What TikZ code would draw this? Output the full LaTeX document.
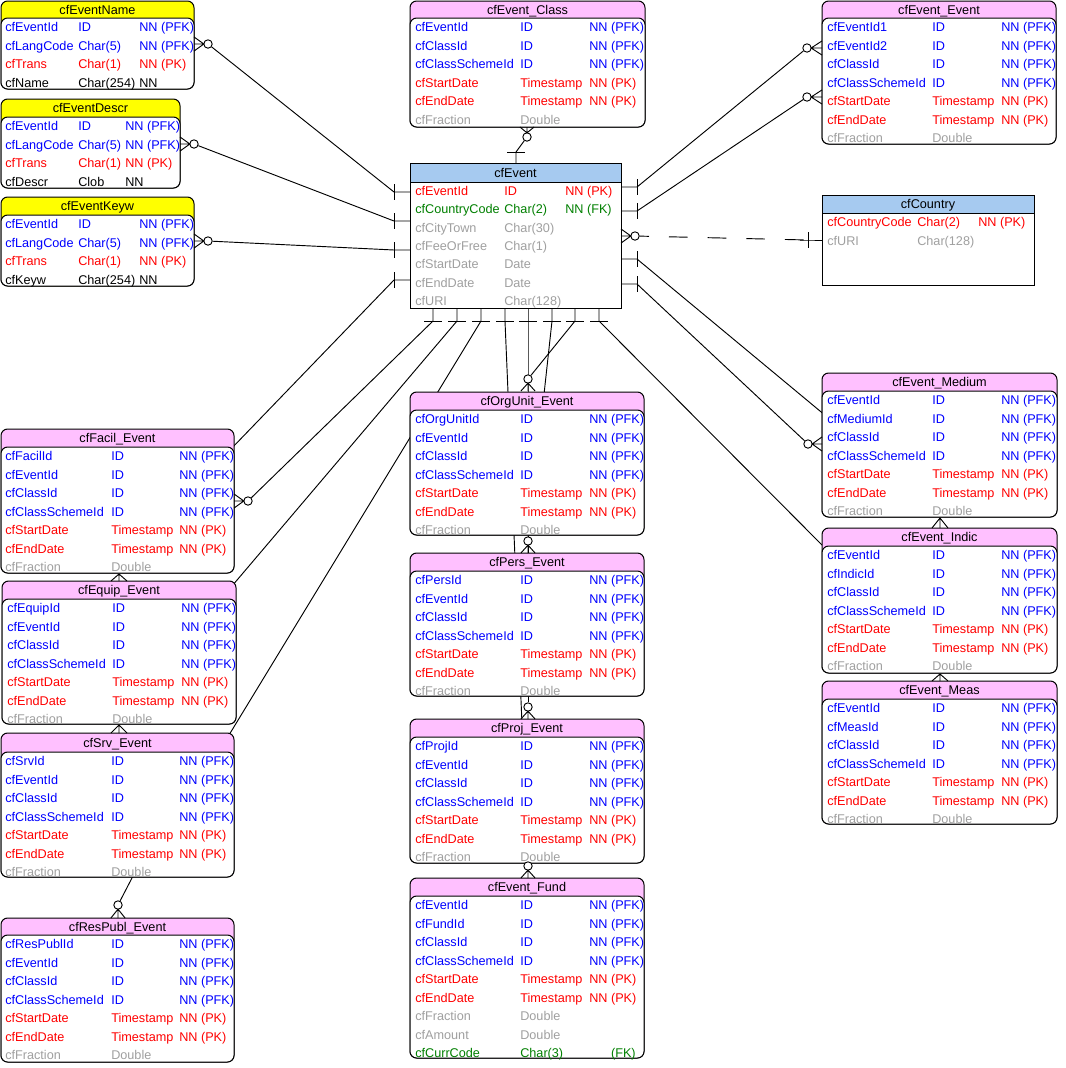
\documentclass[tikz,border=0pt]{standalone}
\usepackage{fontspec}
\setmainfont{Liberation Sans}
\usetikzlibrary{calc}
\pgfdeclarelayer{bgw}
\pgfdeclarelayer{bg}
\pgfsetlayers{bgw,bg,main}
\definecolor{hy}{HTML}{FFFF00}
\definecolor{hp}{HTML}{FFC0FF}
\definecolor{hb}{HTML}{A6CAF0}
\definecolor{cB}{HTML}{0000FF}
\definecolor{cR}{HTML}{FF0000}
\definecolor{cG}{HTML}{008000}
\definecolor{cS}{HTML}{A0A0A0}
\definecolor{cK}{HTML}{000000}
\newcount\ncnt
\xdef\stp{18.55}
\newcommand\tstart[4]{\xdef\cxA{#1}\xdef\cxB{#2}\xdef\cxC{#3}\pgfmathsetmacro\tmpy{#4+9}\xdef\cy{\tmpy}}
\newcommand\rw[4]{%
 \global\advance\ncnt by 1
 \node[txt,text=#1] (a\the\ncnt) at (\cxA,\cy+4.5) {#2};
 \node[txt,text=#1] (b\the\ncnt) at (\cxB,\cy+4.5) {#3};
 \node[txt,text=#1] (c\the\ncnt) at (\cxC,\cy+4.5) {#4};
 \pgfmathsetmacro\tmpy{\cy+\stp}\xdef\cy{\tmpy}}
\newcommand\stdrows[2]{%
 \rw{cB}{#1}{ID}{NN (PFK)}
 \rw{cB}{#2}{ID}{NN (PFK)}
 \rw{cB}{cfClassId}{ID}{NN (PFK)}
 \rw{cB}{cfClassSchemeId}{ID}{NN (PFK)}
 \rw{cR}{cfStartDate}{Timestamp}{NN (PK)}
 \rw{cR}{cfEndDate}{Timestamp}{NN (PK)}
 \rw{cS}{cfFraction}{Double}{}}
\newcommand\rbox[8]{%
 \draw[boxl, fill=#7, rounded corners=5pt] (#2,#3) rectangle (#4,#6);
 \draw[boxl, fill=white, rounded corners=5pt] (#2,#5) rectangle (#4,#6);
 \node[ttl] (#1) at ({(#2+#4)/2},{(#3+#5)/2+4.5}) {#8};}
\newcommand\qbox[8]{%
 \draw[boxl, fill=#7] (#2,#3) rectangle (#4,#5);
 \draw[boxl, fill=white] (#2,#5) rectangle (#4,#6);
 \node[ttl] (#1) at ({(#2+#4)/2},{(#3+#5)/2+4.5}) {#8};}
\newcommand\crow[5]{%
 \coordinate (#1e) at (#4,#5);
 \node[circ] (#1) at (#2,#3) {};
 \coordinate (#1a) at ($(#1.center)!3.1pt!(#1e)$);
 \draw[conn] ($(#1e)!5.3pt!90:(#1.center)$) -- (#1a) -- ($(#1e)!5.3pt!-90:(#1.center)$) (#1e) -- (#1a);}
\newcommand\pcrow[3]{\draw[conn] (#1-8,#3) -- (#1,#2) -- (#1+8,#3) (#1,#2) -- (#1,#3);}
\newcommand\vbr[3]{\coordinate (#1) at (#2,#3); \draw[conn] ($(#1)+(0,-8)$) -- ($(#1)+(0,8)$);}
\newcommand\hbr[3]{\coordinate (#1) at (#2,#3); \draw[conn] ($(#1)+(-9,0)$) -- ($(#1)+(9,0)$);}
\begin{document}
\begin{tikzpicture}[x=0.75pt,y=-0.75pt,
 conn/.style={line width=0.7pt, black},
 boxl/.style={line width=0.75pt, black},
 txt/.style={anchor=base west, inner sep=0pt, font=\fontsize{9.5}{11}\selectfont},
 ttl/.style={anchor=base, inner sep=0pt, font=\fontsize{9.5}{11}\selectfont, text=black},
 circ/.style={circle, draw, fill=white, line width=0.7pt, minimum size=6.3pt, inner sep=0pt}]
\useasboundingbox (0,0) rectangle (1065,1068);
\begin{pgfonlayer}{bgw}
\fill[white] (0,0) rectangle (1065,1068);
\end{pgfonlayer}

% ---------- left column ----------
\rbox{tEN}{1}{1}{194}{18}{89}{hy}{cfEventName}
\tstart{5}{78}{139}{18}
\rw{cB}{cfEventId}{ID}{NN (PFK)}
\rw{cB}{cfLangCode}{Char(5)}{NN (PFK)}
\rw{cR}{cfTrans}{Char(1)}{NN (PK)}
\rw{cK}{cfName}{Char(254)}{NN}

\rbox{tED}{1}{99}{180}{117}{188}{hy}{cfEventDescr}
\tstart{5}{78}{125}{117}
\rw{cB}{cfEventId}{ID}{NN (PFK)}
\rw{cB}{cfLangCode}{Char(5)}{NN (PFK)}
\rw{cR}{cfTrans}{Char(1)}{NN (PK)}
\rw{cK}{cfDescr}{Clob}{NN}

\rbox{tEK}{1}{197}{194}{215}{286}{hy}{cfEventKeyw}
\tstart{5}{78}{139}{215}
\rw{cB}{cfEventId}{ID}{NN (PFK)}
\rw{cB}{cfLangCode}{Char(5)}{NN (PFK)}
\rw{cR}{cfTrans}{Char(1)}{NN (PK)}
\rw{cK}{cfKeyw}{Char(254)}{NN}

\rbox{tFa}{1}{429}{234}{447}{573}{hp}{cfFacil\_Event}
\tstart{5}{111}{179}{447}
\stdrows{cfFacilId}{cfEventId}

\rbox{tEq}{2}{581}{236}{599}{724}{hp}{cfEquip\_Event}
\tstart{7}{112}{181}{599}
\stdrows{cfEquipId}{cfEventId}

\rbox{tSv}{1}{733}{234}{752}{877}{hp}{cfSrv\_Event}
\tstart{5}{111}{179}{752}
\stdrows{cfSrvId}{cfEventId}

\rbox{tRP}{1}{918}{234}{935}{1062}{hp}{cfResPubl\_Event}
\tstart{5}{111}{179}{935}
\stdrows{cfResPublId}{cfEventId}

% ---------- centre column ----------
\rbox{tCl}{410}{1}{645}{18}{127}{hp}{cfEvent\_Class}
\tstart{415}{520}{589}{18}
\rw{cB}{cfEventId}{ID}{NN (PFK)}
\rw{cB}{cfClassId}{ID}{NN (PFK)}
\rw{cB}{cfClassSchemeId}{ID}{NN (PFK)}
\rw{cR}{cfStartDate}{Timestamp}{NN (PK)}
\rw{cR}{cfEndDate}{Timestamp}{NN (PK)}
\rw{cS}{cfFraction}{Double}{}

\qbox{tEv}{410}{163}{621}{182}{308}{hb}{cfEvent}
\xdef\stp{18.35}
\tstart{415}{504}{565}{182}
\rw{cR}{cfEventId}{ID}{NN (PK)}
\rw{cG}{cfCountryCode}{Char(2)}{NN (FK)}
\rw{cS}{cfCityTown}{Char(30)}{}
\rw{cS}{cfFeeOrFree}{Char(1)}{}
\rw{cS}{cfStartDate}{Date}{}
\rw{cS}{cfEndDate}{Date}{}
\rw{cS}{cfURI}{Char(128)}{}
\xdef\stp{18.55}

\rbox{tOU}{410}{392}{644}{410}{535}{hp}{cfOrgUnit\_Event}
\tstart{415}{520}{589}{410}
\stdrows{cfOrgUnitId}{cfEventId}

\rbox{tPe}{410}{553}{644}{571}{696}{hp}{cfPers\_Event}
\tstart{415}{520}{589}{571}
\stdrows{cfPersId}{cfEventId}

\rbox{tPr}{410}{719}{644}{737}{863}{hp}{cfProj\_Event}
\tstart{415}{520}{589}{737}
\stdrows{cfProjId}{cfEventId}

\rbox{tFu}{410}{878}{644}{896}{1058}{hp}{cfEvent\_Fund}
\xdef\stp{18.5}
\tstart{415}{520}{589}{896}
\stdrows{cfEventId}{cfFundId}
\rw{cS}{cfAmount}{Double}{}
\rw{cG}{cfCurrCode}{Char(3)}{\phantom{NN }(FK)}
\xdef\stp{18.55}

% ---------- right column ----------
\rbox{tEE}{822}{1}{1056}{18}{144}{hp}{cfEvent\_Event}
\tstart{827}{932}{1001}{18}
\stdrows{cfEventId1}{cfEventId2}

\qbox{tCo}{822}{195}{1034}{213}{285}{hb}{cfCountry}
\tstart{827}{917}{978}{213}
\rw{cR}{cfCountryCode}{Char(2)}{NN (PK)}
\rw{cS}{cfURI}{Char(128)}{}

\rbox{tMe}{822}{373}{1057}{391}{517}{hp}{cfEvent\_Medium}
\tstart{827}{932}{1001}{391}
\stdrows{cfEventId}{cfMediumId}

\rbox{tIn}{822}{528}{1057}{546}{673}{hp}{cfEvent\_Indic}
\tstart{827}{932}{1001}{546}
\stdrows{cfEventId}{cfIndicId}

\rbox{tMs}{822}{681}{1057}{699}{824}{hp}{cfEvent\_Meas}
\tstart{827}{932}{1001}{699}
\stdrows{cfEventId}{cfMeasId}

% ---------- relationship ends ----------
\vbr{lb1}{394}{192} \vbr{lb2}{394}{221} \vbr{lb3}{394}{250} \vbr{lb4}{394}{280}
\vbr{rb1}{637}{187} \vbr{rb2}{637}{211} \vbr{rb3}{637}{259} \vbr{rb4}{637}{284}
\hbr{bb1}{433}{321} \hbr{bb2}{457}{321} \hbr{bb3}{481}{321} \hbr{bb4}{505}{321}
\hbr{bb5}{528}{321} \hbr{bb6}{552}{321} \hbr{bb7}{575}{321} \hbr{bb8}{599}{321}
\hbr{tb1}{516}{152}
\vbr{cb1}{808}{240}

\crow{kEN}{208}{44}{194}{44}
\crow{kED}{194}{144}{180}{144}
\crow{kEK}{208}{241}{194}{241}
\crow{kFa}{248}{501}{234}{501}
\crow{kCl}{527}{137}{527}{127}
\crow{kOU}{528}{379}{528}{391}
\crow{kPe}{528}{541}{528}{553}
\crow{kPr}{528}{707}{528}{719}
\crow{kFu}{528}{866}{528}{878}
\crow{kEE1}{807}{48}{822}{48}
\crow{kEE2}{807}{97}{822}{97}
\crow{kMe}{808}{444}{822}{444}
\crow{kCo}{635}{236}{621}{236}
\crow{kRP}{118}{905}{118}{918}

\pcrow{119}{574}{581}
\pcrow{119}{725}{733}
\pcrow{940}{518}{528}
\pcrow{940}{674}{681}

\coordinate (fa1) at (230,450);
\coordinate (eq1) at (232,586);
\coordinate (sv1) at (229,735);
\coordinate (me1) at (826,416);
\coordinate (in1) at (826,549);
\coordinate (sr1) at (133,876);

\begin{pgfonlayer}{bg}
\draw[conn] ($(lb1)+(16,0)$) -- (lb1) -- (kEN);
\draw[conn] ($(lb2)+(16,0)$) -- (lb2) -- (kED);
\draw[conn] ($(lb3)+(16,0)$) -- (lb3) -- (kEK);
\draw[conn] ($(lb4)+(16,0)$) -- (lb4) -- (fa1);
\draw[conn] ($(rb1)+(-16,0)$) -- (rb1) -- (kEE1);
\draw[conn] ($(rb2)+(-16,0)$) -- (rb2) -- (kEE2);
\draw[conn] ($(rb3)+(-16,0)$) -- (rb3) -- (me1);
\draw[conn] ($(rb4)+(-16,0)$) -- (rb4) -- (kMe);
\draw[conn, dash pattern=on 14pt off 15pt, dash phase=7pt] (kCo) -- (cb1);
\draw[conn] ($(cb1)+(-8,0)$) -- (cb1) -- ($(cb1)+(14,0)$);
\draw[conn] ($(tb1)+(0,11)$) -- (tb1) -- (kCl);
\draw[conn] ($(bb1)+(0,-13)$) -- (bb1) -- (kFa);
\draw[conn] ($(bb2)+(0,-13)$) -- (bb2) -- (eq1);
\draw[conn] ($(bb3)+(0,-13)$) -- (bb3) -- (sv1);
\draw[conn] ($(bb4)+(0,-13)$) -- (bb4) -- (kFu);
\draw[conn] ($(bb5)+(0,-13)$) -- (bb5) -- (kPr);
\draw[conn] ($(bb6)+(0,-13)$) -- (bb6) -- (kPe);
\draw[conn] ($(bb7)+(0,-13)$) -- (bb7) -- (kOU);
\draw[conn] ($(bb8)+(0,-13)$) -- (bb8) -- (in1);
\draw[conn] (sr1) -- (kRP);
\end{pgfonlayer}
\end{tikzpicture}
\end{document}
